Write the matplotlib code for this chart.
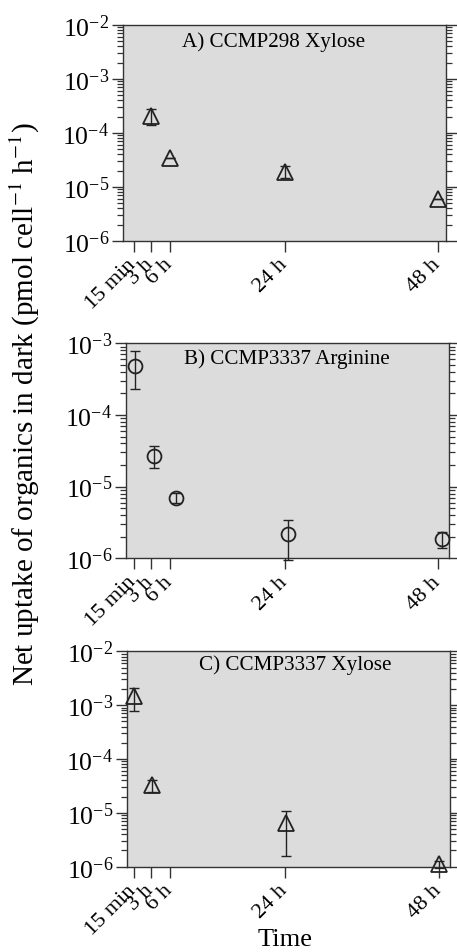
import numpy as np
import matplotlib
matplotlib.use('Agg')
import matplotlib.pyplot as plt
from matplotlib.ticker import LogLocator, LogFormatterMathtext, NullFormatter

plt.rcParams['font.family'] = ['Liberation Serif', 'DejaVu Serif']
plt.rcParams['mathtext.fontset'] = 'stix'

# time ticks (hours)
tick_pos = [0.25, 3, 6, 24, 48]
tick_lab = ['15 min', '3 h', '6 h', '24 h', '48 h']

# A) CCMP298 Xylose
a_t = [3, 6, 24, 48]
a_val = [2.05e-4, 3.4e-5, 1.9e-5, 6.0e-6]
a_lo = [1.4e-4, 3.4e-5, 1.45e-5, 6.0e-6]
a_hi = [2.8e-4, 3.4e-5, 2.4e-5, 6.0e-6]

# B) CCMP3337 Arginine
b_t = [0.45, 3.5, 6.9, 24.5, 48.6]
b_val = [4.9e-4, 2.7e-5, 7.0e-6, 2.15e-6, 1.85e-6]
b_lo = [2.3e-4, 1.8e-5, 6.0e-6, 9.6e-7, 1.4e-6]
b_hi = [7.7e-4, 3.65e-5, 8.2e-6, 3.4e-6, 2.3e-6]

# C) CCMP3337 Xylose
c_t = [0.3, 3.1, 24.1, 48]
c_val = [1.45e-3, 3.3e-5, 6.5e-6, 1.1e-6]
c_lo = [7.8e-4, 2.4e-5, 1.6e-6, 9.5e-7]
c_hi = [2.05e-3, 4.1e-5, 1.1e-5, 1.25e-6]

panels = [
    ('A) CCMP298 Xylose', a_t, a_val, a_lo, a_hi, '^', 11.5, (1e-6, 1e-2),
     [123 / 457, 1 - 242 / 953, 323 / 457, 216 / 953], (-1.41, 49.2), (0.467, 0.927)),
    ('B) CCMP3337 Arginine', b_t, b_val, b_lo, b_hi, 'o', 10, (1e-6, 1e-3),
     [126 / 457, 1 - 559.3 / 953, 323 / 457, 215 / 953], (-0.94, 49.7), (0.498, 0.93)),
    ('C) CCMP3337 Xylose', c_t, c_val, c_lo, c_hi, '^', 11.5, (1e-6, 1e-2),
     [127 / 457, 1 - 867.7 / 953, 323 / 457, 215.4 / 953], (-0.78, 49.8), (0.52, 0.94)),
]

fig = plt.figure(figsize=(4.57, 9.53), dpi=100)

for title, t, v, lo, hi, mk, ms, ylim, pos, xlim, tpos in panels:
    ax = fig.add_axes(pos)
    ax.set_facecolor('#dcdcdc')
    v = np.array(v)
    yerr = [v - np.array(lo), np.array(hi) - v]
    ax.errorbar(t, v, yerr=yerr, fmt='none', ecolor='#222222', elinewidth=1.0,
                capsize=3.5, capthick=1.0, clip_on=False, zorder=3)
    ax.plot(t, v, marker=mk, ms=ms, mfc='none', mec='#222222', mew=1.3,
            ls='none', clip_on=False, zorder=4)
    ax.set_yscale('log')
    ax.set_ylim(*ylim)
    ax.set_xlim(*xlim)
    ax.yaxis.set_major_locator(LogLocator(base=10, numticks=10))
    ax.yaxis.set_major_formatter(LogFormatterMathtext())
    ax.yaxis.set_minor_locator(LogLocator(base=10, subs=np.arange(2, 10), numticks=10))
    ax.yaxis.set_minor_formatter(NullFormatter())
    ax.set_xticks(tick_pos)
    ax.set_xticklabels([])
    # rotated time labels, placed by hand so they sit just under each tick
    for tp, tl in zip(tick_pos, tick_lab):
        ax.annotate(tl, xy=(tp, 0), xycoords=ax.get_xaxis_transform(),
                    xytext=(4.5, -10), textcoords='offset points',
                    rotation=45, ha='right', va='top', fontsize=16)
    ax.tick_params(axis='y', which='major', direction='out', length=8, width=1.0,
                   left=True, right=True, labelsize=18.5, pad=2, color='#333333')
    ax.tick_params(axis='y', which='minor', direction='out', length=4, width=0.9,
                   left=True, right=True, color='#333333')
    ax.tick_params(axis='x', which='major', direction='out', length=8, width=1.0,
                   color='#333333')
    for sp in ax.spines.values():
        sp.set_color('#333333')
        sp.set_linewidth(1.0)
    ax.text(tpos[0], tpos[1], title, transform=ax.transAxes, ha='center', va='center',
            fontsize=15.2)

fig.text(25 / 457, 1 - 404 / 953,
         r'Net uptake of organics in dark (pmol cell$^{-1}$ h$^{-1}$)',
         rotation=90, ha='center', va='center', fontsize=21)
fig.text(285 / 457, 1 - 940 / 953, 'Time', ha='center', va='center', fontsize=19)

fig.savefig('out.png', dpi=100)
